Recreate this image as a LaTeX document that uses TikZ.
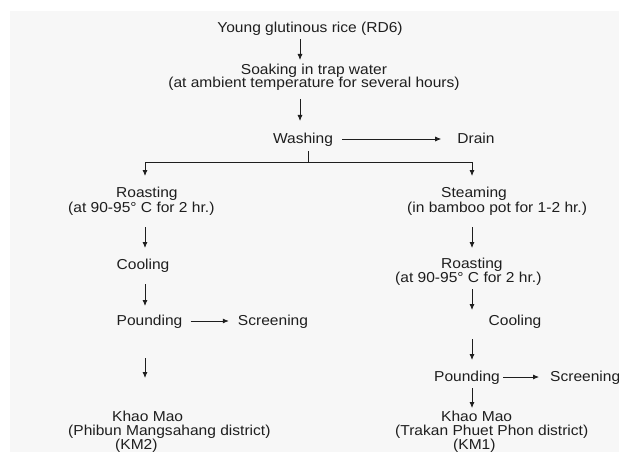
\documentclass[tikz,border=0pt]{standalone}
\usepackage{fontspec}
\setmainfont{Liberation Sans}[FakeStretch=1.08]
\usetikzlibrary{arrows.meta}
\definecolor{bggray}{HTML}{F7F7F7}
\definecolor{ink}{HTML}{1E1E1E}
\tikzset{
  txt/.style={inner sep=0pt, text=ink, font=\fontsize{14.4}{14}\selectfont},
  lbl/.style={txt, text height=10pt, text depth=2pt},
  blk/.style={txt, align=center},
  blkl/.style={txt, align=left, anchor=west},
  arr/.style={draw=ink, line width=0.8pt, -{Latex[length=6pt,width=5pt]}},
  ln/.style={draw=ink, line width=0.8pt},
}
\begin{document}
\begin{tikzpicture}[x=1pt,y=1pt]
        \useasboundingbox (0,0) rectangle (619,-452);
        \fill[bggray] (10,-11) rectangle (619,-452);
        \coordinate (mid) at (300,0);
        \coordinate (lft) at (145,0);
        \coordinate (rgt) at (472,0);
        \coordinate (fork) at (308,-162);
        % trunk
        \node[lbl](young) at (310,-29){Young glutinous rice (RD6)};
        \node[blk](soak) at (314,-77.5){Soaking in trap water\\[-0.8pt](at ambient temperature for several hours)};
        \node[lbl](washing) at (303,-139){Washing};
        \node[lbl](drain) at (476,-139){Drain};
        \draw[arr, shorten <=10pt, shorten >=17.5pt] (young -| mid) -- (soak -| mid);
        \draw[arr, shorten <=21.5pt, shorten >=18pt] (soak -| mid) -- (washing -| mid);
        \draw[arr, shorten <=9pt, shorten >=16pt] (washing.east) -- (drain.west);
        \draw[ln, shorten <=12pt] (washing -| fork) -- (fork);
        % left branch (KM2)
        \node[blkl](roastL) at (68,-201.5){\hspace*{48pt}Roasting\\[1pt](at 90-95° C for 2 hr.)};
        \node[lbl](coolL) at (143,-265){Cooling};
        \node[lbl](poundL) at (149.5,-321){Pounding};
        \node[lbl](screenL) at (273,-321){Screening};
        \node[blkl](khaoL) at (68,-432){\hspace*{44pt}Khao Mao\\(Phibun Mangsahang district)\\\hspace*{47pt}(KM2)};
        \draw[arr, shorten >=25.5pt] (fork) -| (roastL -| lft);
        \draw[arr, shorten <=25.5pt, shorten >=17pt] (roastL -| lft) -- (coolL -| lft);
        \draw[arr, shorten <=19pt, shorten >=15pt] (coolL -| lft) -- (poundL -| lft);
        \draw[arr, shorten <=8pt, shorten >=9pt] (poundL.east) -- (screenL.west);
        \draw[arr, shorten <=37pt, shorten >=54pt] (poundL -| lft) -- (khaoL -| lft);
        % right branch (KM1)
        \node[blkl](steam) at (407,-201.5){\hspace*{34pt}Steaming\\[1pt](in bamboo pot for 1-2 hr.)};
        \node[blkl](roastR) at (395,-272){\hspace*{46pt}Roasting\\(at 90-95° C for 2 hr.)};
        \node[lbl](coolR) at (515,-321){Cooling};
        \node[lbl](poundR) at (467,-377){Pounding};
        \node[lbl, anchor=west](screenR) at (550,-377){Screening};
        \node[blkl](khaoR) at (395,-432){\hspace*{46pt}Khao Mao\\(Trakan Phuet Phon district)\\\hspace*{58pt}(KM1)};
        \draw[arr, shorten >=25.5pt] (fork) -| (steam -| rgt);
        \draw[arr, shorten <=25.5pt, shorten >=24pt] (steam -| rgt) -- (roastR -| rgt);
        \draw[arr, shorten <=17pt, shorten >=11pt] (roastR -| rgt) -- (coolR -| rgt);
        \draw[arr, shorten <=18pt, shorten >=17pt] (coolR -| rgt) -- (poundR -| rgt);
        \draw[arr, shorten <=3pt, shorten >=11pt] (poundR.east) -- (screenR.west);
        \draw[arr, shorten <=11pt, shorten >=24pt] (poundR -| rgt) -- (khaoR -| rgt);
    \end{tikzpicture}
\end{document}
